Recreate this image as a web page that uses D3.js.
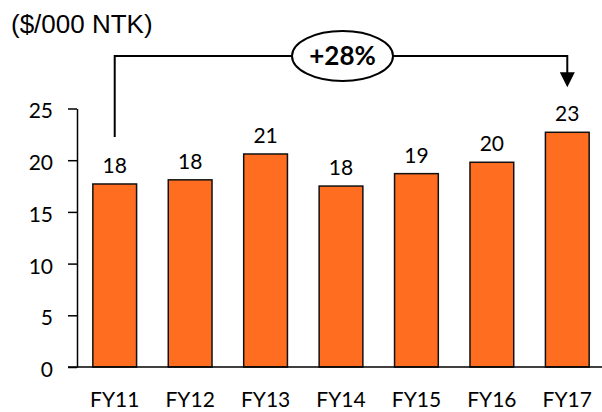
<!DOCTYPE html>
<html>
<head>
<meta charset="utf-8">
<script src="https://cdn.jsdelivr.net/npm/d3@7"></script>
<style>
  body { margin: 0; background: #fff; }
  svg { display: block; }
  .tick text { font-family: Lato, "Open Sans", sans-serif; font-size: 21px; fill: #000; }
  .bar-label { font-family: Lato, "Open Sans", sans-serif; font-size: 21px; fill: #000; }
</style>
</head>
<body>
<svg class="chart"></svg>
<script>
const years = ["FY11", "FY12", "FY13", "FY14", "FY15", "FY16", "FY17"]
const costPerNtk = [17.7, 18.1, 20.6, 17.5, 18.7, 19.8, 22.7]
const yTicks = [0, 5, 10, 15, 20, 25]
const unitLabel = "($/000 NTK)"
const growthLabel = "+28%"

const WIDTH = 602
const HEIGHT = 412
const ORANGE = "#ff6d21"

const svg = d3.select("svg.chart")
  .attr("width", WIDTH)
  .attr("height", HEIGHT)

const xScale = d3.scaleBand()
  .domain(years)
  .range([77, 605])
  .paddingInner(0.42)
  .paddingOuter(0.21)

const yScale = d3.scaleLinear()
  .domain([0, 25])
  .range([367, 108.5])

// unit label
svg.append("text")
  .attr("x", 11)
  .attr("y", 33)
  .style("font-family", "'Liberation Sans', Arial, sans-serif")
  .style("font-size", "26px")
  .text(unitLabel)

// y axis
const yAxis = svg.append("g")
  .attr("transform", "translate(77,0)")
  .call(d3.axisLeft(yScale).tickValues(yTicks).tickSize(9).tickSizeOuter(0).tickPadding(15))
yAxis.select(".domain").attr("stroke", "#000").attr("stroke-width", 1.5)
yAxis.selectAll(".tick line").attr("stroke", "#000").attr("stroke-width", 1.5)
yAxis.selectAll(".tick text").attr("dy", "0.45em")

// bars
const data = years.map((y, i) => ({ year: y, value: costPerNtk[i] }))

svg.selectAll(".bar")
  .data(data)
  .enter()
  .append("rect")
  .attr("class", "bar")
  .attr("x", d => xScale(d.year))
  .attr("y", d => yScale(d.value))
  .attr("width", xScale.bandwidth())
  .attr("height", d => yScale(0) - yScale(d.value))
  .attr("fill", ORANGE)
  .attr("stroke", "#111")
  .attr("stroke-width", 1.5)

// value labels
svg.selectAll(".bar-label")
  .data(data)
  .enter()
  .append("text")
  .attr("class", "bar-label")
  .attr("x", d => xScale(d.year) + xScale.bandwidth() / 2)
  .attr("y", d => yScale(d.value) - 11)
  .attr("text-anchor", "middle")
  .text(d => Math.round(d.value))

// baseline
svg.append("line")
  .attr("x1", 68).attr("x2", WIDTH)
  .attr("y1", yScale(0)).attr("y2", yScale(0))
  .attr("stroke", "#000")
  .attr("stroke-width", 1.5)

// x axis labels
const xAxis = svg.append("g")
  .attr("transform", `translate(0, ${yScale(0)})`)
  .call(d3.axisBottom(xScale).tickSize(0).tickPadding(25))
xAxis.select(".domain").remove()

// growth bracket
const first = data[0]
const last = data[data.length - 1]
const x0 = xScale(first.year) + xScale.bandwidth() / 2
const x1 = xScale(last.year) + xScale.bandwidth() / 2
const topY = 56
const startY = yScale(first.value) - 47
const tipY = yScale(last.value) - 45

svg.append("path")
  .attr("d", `M${x0},${startY}V${topY}H${x1}V${tipY - 14}`)
  .attr("fill", "none")
  .attr("stroke", "#000")
  .attr("stroke-width", 2)

svg.append("path")
  .attr("d", `M${x1 - 7.5},${tipY - 15}L${x1 + 7.5},${tipY - 15}L${x1},${tipY}Z`)
  .attr("fill", "#000")

svg.append("ellipse")
  .attr("cx", 342.5)
  .attr("cy", topY)
  .attr("rx", 50.5)
  .attr("ry", 25)
  .attr("fill", "#fff")
  .attr("stroke", "#000")
  .attr("stroke-width", 2)

svg.append("text")
  .attr("x", 342.5)
  .attr("y", topY + 8.5)
  .attr("text-anchor", "middle")
  .style("font-family", "Lato, 'Open Sans', sans-serif")
  .style("font-weight", "bold")
  .style("font-size", "26px")
  .text(growthLabel)
</script>
</body>
</html>
